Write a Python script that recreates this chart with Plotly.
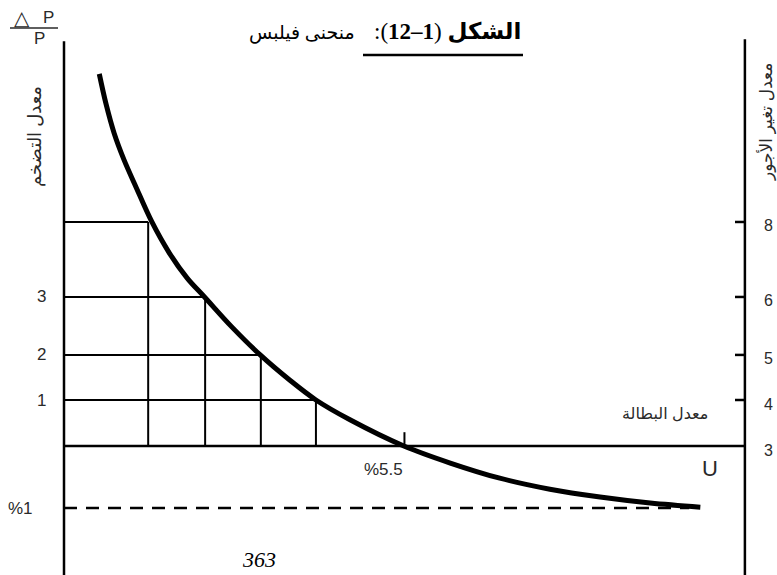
import plotly.graph_objects as go

# Phillips curve traced along its length: unemployment rate (%) against the inflation scale
unemployment = [0.57, 0.68, 0.81, 0.97, 1.15, 1.42, 1.70, 1.99, 2.27, 2.71,
                3.17, 3.64, 4.07, 4.62, 5.49, 6.24, 7.04, 7.85, 8.66, 9.47, 10.28]
inflation = [8.09, 7.43, 6.80, 6.22, 5.67, 4.87, 4.20, 3.65, 3.24, 2.59,
             1.98, 1.44, 1.00, 0.57, 0.00, -0.37, -0.70, -0.94, -1.11, -1.24, -1.33]

# inflation levels marked on the left scale and the unemployment where the curve meets them
step_inflation = [1.00, 1.98, 3.24, 4.87]
step_unemployment = [4.07, 3.18, 2.28, 1.36]
inflation_labels = ["1", "2", "3", ""]

# wage growth read on the right scale at the same heights (3 sits on the U axis)
wage_levels = [0.00, 1.00, 1.98, 3.24, 4.87]
wage_labels = ["3", "4", "5", "6", "8"]

natural_rate = 5.5
natural_label = "%5.5"
floor_inflation = -1.35
floor_label = "%1"
floor_end = 10.1
u_max = 11.0
axis_top = 8.8
axis_bottom = -3.0

W, H = 777, 575
BLACK = "#000000"
TEXT = "#2a2a2a"
SANS = "Liberation Sans, Arial, DejaVu Sans"
SERIF = "Liberation Serif, DejaVu Sans"

fig = go.Figure()


def seg(xs, ys, width, dash="solid"):
    fig.add_trace(go.Scatter(x=xs, y=ys, mode="lines", hoverinfo="skip",
                             line=dict(color=BLACK, width=width, dash=dash)))


# frame: inflation axis, wage axis and the unemployment axis
seg([0, 0], [axis_bottom, axis_top], 2.5)
seg([u_max, u_max], [axis_bottom, axis_top + 0.04], 2.5)
seg([0, u_max], [0, 0], 2.5)

# staircase grid under the curve
gx, gy = [], []
for u, p in zip(step_unemployment, step_inflation):
    gx += [0, u, None, u, u, None]
    gy += [p, p, None, 0, p, None]
seg(gx, gy, 2)

# tick marks on the wage axis
tx, ty = [], []
for w in wage_levels[1:]:
    tx += [u_max - 0.16, u_max, None]
    ty += [w, w, None]
seg(tx, ty, 2.5)

# tick at the natural rate of unemployment
seg([natural_rate, natural_rate], [0, 0.3], 2)

# dashed floor line
seg([0, floor_end], [floor_inflation, floor_inflation], 2.5, dash="13px,9px")

# the Phillips curve
fig.add_trace(go.Scatter(x=unemployment, y=inflation, mode="lines", hoverinfo="skip",
                         line=dict(color=BLACK, width=5, shape="spline", smoothing=1.0)))

# left scale labels
for p, t in zip(step_inflation, inflation_labels):
    if t:
        fig.add_annotation(x=0, y=p, xref="x", yref="y", text=t, showarrow=False,
                           xanchor="right", yanchor="middle", xshift=-16,
                           font=dict(family=SANS, size=17, color=TEXT))

# right scale labels
for w, t in zip(wage_levels, wage_labels):
    fig.add_annotation(x=u_max, y=w, xref="x", yref="y", text=t, showarrow=False,
                       xanchor="left", yanchor="middle", xshift=17, yshift=-4,
                       font=dict(family=SANS, size=16, color=TEXT))

fig.add_annotation(x=natural_rate, y=0, xref="x", yref="y", text=natural_label,
                   showarrow=False, xanchor="center", yanchor="top", xshift=-21, yshift=-12,
                   font=dict(family=SANS, size=17, color=TEXT))
fig.add_annotation(x=0, y=floor_inflation, xref="x", yref="y", text=floor_label,
                   showarrow=False, xanchor="right", yanchor="middle", xshift=-29,
                   font=dict(family=SANS, size=17, color=TEXT))
fig.add_annotation(x=u_max, y=0, xref="x", yref="y", text="U", showarrow=False,
                   xanchor="center", yanchor="middle", xshift=-35, yshift=-22,
                   font=dict(family=SANS, size=22, color=TEXT))
fig.add_annotation(x=u_max, y=0, xref="x", yref="y", text="معدل البطالة", showarrow=False,
                   xanchor="right", yanchor="bottom", xshift=-35, yshift=22,
                   font=dict(family=SANS, size=16, color=TEXT))


def paper(px, py):
    return px / W, 1 - py / H


# title (a trailing right-to-left mark keeps the closing bracket and colon in the RTL run)
x, y = paper(523, 32)
fig.add_annotation(x=x, y=y, xref="paper", yref="paper",
                   text="<b>الشكل</b> (<b>1–12</b>):\u200f",
                   showarrow=False, xanchor="right", yanchor="middle",
                   font=dict(family=SERIF, size=23, color=BLACK))
x, y = paper(357, 33)
fig.add_annotation(x=x, y=y, xref="paper", yref="paper", text="منحنى فيلبس",
                   showarrow=False, xanchor="right", yanchor="middle",
                   font=dict(family=SERIF, size=19, color=BLACK))
x0, y0 = paper(363, 55)
x1, _ = paper(523, 55)
fig.add_shape(type="line", xref="paper", yref="paper", x0=x0, x1=x1, y0=y0, y1=y0,
              line=dict(color=BLACK, width=2.5))

# ΔP / P heading of the inflation axis
x, y = paper(22, 18)
fig.add_annotation(x=x, y=y, xref="paper", yref="paper", text="△", showarrow=False,
                   xanchor="center", yanchor="middle",
                   font=dict(family="DejaVu Sans", size=20, color=TEXT))
x, y = paper(48, 18)
fig.add_annotation(x=x, y=y, xref="paper", yref="paper", text="P", showarrow=False,
                   xanchor="center", yanchor="middle",
                   font=dict(family=SANS, size=17, color=TEXT))
x, y = paper(39, 38)
fig.add_annotation(x=x, y=y, xref="paper", yref="paper", text="P", showarrow=False,
                   xanchor="center", yanchor="middle",
                   font=dict(family=SANS, size=17, color=TEXT))
x0, y0 = paper(10, 28)
x1, _ = paper(58, 28)
fig.add_shape(type="line", xref="paper", yref="paper", x0=x0, x1=x1, y0=y0, y1=y0,
              line=dict(color=TEXT, width=1.5))

# axis titles
x, y = paper(35, 137)
fig.add_annotation(x=x, y=y, xref="paper", yref="paper", text="معدل التضخم",
                   showarrow=False, textangle=-90, xanchor="center", yanchor="middle",
                   font=dict(family=SANS, size=18, color=TEXT))
x, y = paper(766, 122)
fig.add_annotation(x=x, y=y, xref="paper", yref="paper", text="معدل تغير الأجور",
                   showarrow=False, textangle=-90, xanchor="center", yanchor="middle",
                   font=dict(family=SANS, size=17, color=TEXT))

# page number at the foot
x, y = paper(259, 574)
fig.add_annotation(x=x, y=y, xref="paper", yref="paper", text="<i>363</i>",
                   showarrow=False, xanchor="center", yanchor="bottom",
                   font=dict(family="Liberation Serif", size=22, color=BLACK))

fig.update_layout(
    width=W, height=H,
    margin=dict(l=0, r=0, t=0, b=0),
    paper_bgcolor="white", plot_bgcolor="white",
    showlegend=False,
    xaxis=dict(range=[-64 / 61.9, 713 / 61.9], visible=False, fixedrange=True),
    yaxis=dict(range=[-129 / 46, 446 / 46], visible=False, fixedrange=True),
)

fig.write_html("out.html")
